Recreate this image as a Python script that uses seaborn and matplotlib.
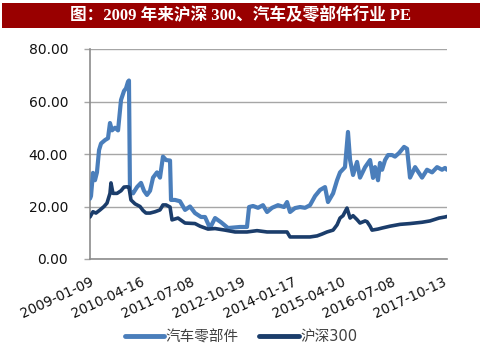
import matplotlib
matplotlib.use("Agg")
import matplotlib.pyplot as plt
from matplotlib.patches import Rectangle
import pandas as pd
import seaborn as sns

# PE of the auto parts sector (weekly readings, key turning points)
auto_dates = [
    "2009-01-09", "2009-01-18", "2009-02-05", "2009-02-23", "2009-03-13", "2009-04-01",
    "2009-04-19", "2009-05-25", "2009-06-21", "2009-07-09", "2009-07-27", "2009-08-24",
    "2009-09-20", "2009-10-17", "2009-11-13", "2009-12-01", "2009-12-19", "2009-12-28",
    "2010-01-06", "2010-02-03", "2010-03-11", "2010-04-16", "2010-05-13", "2010-06-09",
    "2010-07-07", "2010-08-03", "2010-09-08", "2010-10-05", "2010-11-01", "2010-11-29",
    "2011-01-04", "2011-01-13", "2011-02-18", "2011-04-04", "2011-05-20", "2011-07-04",
    "2011-08-18", "2011-10-12", "2011-11-17", "2012-01-01", "2012-02-16", "2012-04-10",
    "2012-06-12", "2012-09-29", "2012-12-01", "2012-12-20", "2013-01-25", "2013-03-11",
    "2013-04-25", "2013-06-01", "2013-07-16", "2013-09-08", "2013-11-02", "2013-11-29",
    "2013-12-26", "2014-02-09", "2014-03-27", "2014-05-11", "2014-06-25", "2014-08-10",
    "2014-09-24", "2014-11-08", "2014-12-05", "2015-01-20", "2015-02-25", "2015-03-24",
    "2015-05-08", "2015-06-04", "2015-06-23", "2015-07-20", "2015-08-25", "2015-09-21",
    "2015-11-06", "2015-12-21", "2016-01-17", "2016-02-04", "2016-03-02", "2016-03-20",
    "2016-04-08", "2016-05-05", "2016-06-01", "2016-07-07", "2016-08-03", "2016-09-09",
    "2016-10-24", "2016-11-20", "2016-12-17", "2017-02-01", "2017-04-05", "2017-05-20",
    "2017-07-05", "2017-08-19", "2017-10-03", "2017-10-30", "2017-11-17",
]
auto_pe = [
    23.0, 24.0, 32.8, 30.0, 33.0, 41.5,
    44.0, 45.3, 46.0, 51.8, 49.0, 50.0,
    49.0, 60.6, 64.0, 65.0, 67.5, 68.0,
    26.0, 25.0, 27.4, 29.0, 26.0, 24.4,
    26.0, 31.0, 33.0, 31.0, 39.0, 37.7,
    37.5, 22.5, 22.5, 22.0, 18.7, 20.0,
    17.5, 16.0, 16.0, 11.8, 15.6, 14.0,
    11.8, 12.2, 12.2, 19.8, 20.2, 19.5,
    20.5, 17.9, 19.5, 20.5, 19.8, 21.7,
    17.9, 19.4, 19.8, 19.5, 20.5, 24.0,
    26.3, 27.4, 21.7, 25.0, 30.0, 33.0,
    35.0, 48.4, 37.7, 32.0, 37.0, 31.0,
    35.0, 37.7, 30.9, 35.0, 30.0, 36.6,
    34.0, 37.7, 39.6, 39.6, 39.0, 40.4,
    42.7, 42.0, 31.0, 35.0, 31.0, 34.0,
    33.0, 35.0, 34.0, 34.7, 34.0,
]

# PE of the CSI 300 index
csi_dates = [
    "2009-01-09", "2009-02-05", "2009-03-04", "2009-04-10", "2009-05-16", "2009-06-12",
    "2009-07-09", "2009-07-18", "2009-08-05", "2009-09-11", "2009-10-17", "2009-11-13",
    "2009-12-10", "2009-12-28", "2010-01-15", "2010-02-21", "2010-04-07", "2010-05-04",
    "2010-05-31", "2010-07-07", "2010-08-21", "2010-10-05", "2010-11-01", "2010-11-29",
    "2011-01-04", "2011-01-22", "2011-03-17", "2011-05-20", "2011-08-18", "2011-10-03",
    "2011-12-14", "2012-02-16", "2012-05-16", "2012-08-15", "2012-12-01", "2013-03-02",
    "2013-06-01", "2013-09-26", "2013-11-29", "2013-12-26", "2014-03-27", "2014-06-25",
    "2014-08-28", "2014-10-12", "2014-11-26", "2015-01-20", "2015-02-25", "2015-03-24",
    "2015-04-20", "2015-05-26", "2015-06-23", "2015-07-20", "2015-08-25", "2015-09-21",
    "2015-11-06", "2015-11-24", "2015-12-21", "2016-01-08", "2016-03-02", "2016-04-08",
    "2016-06-19", "2016-09-18", "2016-12-17", "2017-04-05", "2017-06-16", "2017-09-06",
    "2017-10-30", "2017-11-17",
]
csi_pe = [
    16.0, 18.0, 17.5, 18.7, 20.0, 21.3,
    25.0, 29.0, 25.0, 25.0, 26.0, 27.4,
    27.5, 27.4, 22.5, 21.0, 20.0, 18.5,
    17.5, 17.5, 18.0, 18.7, 20.6, 20.6,
    19.8, 14.9, 15.6, 13.7, 13.5, 12.5,
    11.4, 11.6, 11.0, 10.3, 10.3, 10.8,
    10.3, 10.3, 10.3, 8.4, 8.4, 8.4,
    8.8, 9.5, 10.3, 11.0, 13.0, 15.6,
    16.5, 19.4, 15.6, 16.5, 15.0, 13.7,
    14.5, 14.2, 12.5, 11.0, 11.4, 11.8,
    12.5, 13.2, 13.5, 14.0, 14.5, 15.6,
    16.0, 16.2,
]

tick_labels = ["2009-01-09", "2010-04-16", "2011-07-08", "2012-10-19",
               "2014-01-17", "2015-04-10", "2016-07-08", "2017-10-13"]
y_ticks = [0, 20, 40, 60, 80]

title_text = "图：2009 年来沪深 300、汽车及零部件行业 PE"
auto_name = "汽车零部件"
csi_name = "沪深300"

sns.set_theme(style="white")
plt.rcParams["font.family"] = ["DejaVu Sans", "Noto Sans CJK SC"]

auto_df = pd.DataFrame({"date": pd.to_datetime(auto_dates), "pe": auto_pe})
csi_df = pd.DataFrame({"date": pd.to_datetime(csi_dates), "pe": csi_pe})

W, H = 482, 346
fig = plt.figure(figsize=(W / 100, H / 100), dpi=100)
fig.patch.set_facecolor("white")

# title banner
fig.patches.append(Rectangle((2 / W, 1 - 28 / H), 478 / W, 25 / H,
                             transform=fig.transFigure, facecolor="#990000",
                             edgecolor="none", zorder=0))
fig.text(0.5, 1 - 15.5 / H, title_text, color="white", fontsize=12, fontweight="bold",
         ha="center", va="center",
         family=["Liberation Serif", "Noto Sans CJK SC"])

ax_left, ax_right, ax_top, ax_bottom = 90, 447, 49, 259
ax = fig.add_axes([ax_left / W, (H - ax_bottom) / H,
                   (ax_right - ax_left) / W, (ax_bottom - ax_top) / H])

light = "#4a7ebb"
dark = "#1b3d6b"
sns.lineplot(data=auto_df, x="date", y="pe", ax=ax, color=light, linewidth=3.0,
             label=auto_name, zorder=3)
sns.lineplot(data=csi_df, x="date", y="pe", ax=ax, color=dark, linewidth=2.6,
             label=csi_name, zorder=4)

ax.set_xlim(pd.Timestamp("2009-01-09"), pd.Timestamp("2017-11-17"))
ax.set_ylim(0, 80)
ax.set_yticks(y_ticks)
ax.set_yticklabels([f"{v:.2f}" for v in y_ticks])
ax.set_xticks(pd.to_datetime(tick_labels))
ax.set_xticklabels(tick_labels, rotation=25, ha="right", va="top",
                   rotation_mode="anchor")
ax.set_xlabel("")
ax.set_ylabel("")

ax.grid(axis="y", color="#a6a6a6", linewidth=1.0)
ax.grid(axis="x", visible=False)
for side in ["top", "right"]:
    ax.spines[side].set_visible(False)
for side in ["left", "bottom"]:
    ax.spines[side].set_color("#8c8c8c")
    ax.spines[side].set_linewidth(1.2)

ax.tick_params(axis="y", which="major", length=4.3, width=1.0, color="#a6a6a6",
               labelsize=10, labelcolor="#111111", pad=11.5, left=True)
ax.tick_params(axis="x", which="major", length=0, labelsize=9.8,
               labelcolor="#111111", pad=11.5)

ax_w = ax_right - ax_left
ax_h = ax_bottom - ax_top
leg = ax.legend(loc="center",
                bbox_to_anchor=((W / 2 - ax_left) / ax_w, -(337 - ax_bottom) / ax_h),
                ncol=2, frameon=False, fontsize=10.5, handlelength=2.7,
                handletextpad=0.1, columnspacing=1.4)
for line in leg.get_lines():
    line.set_linewidth(3.5)
for t in leg.get_texts():
    t.set_color("#404040")

fig.savefig("out.png", dpi=100)
